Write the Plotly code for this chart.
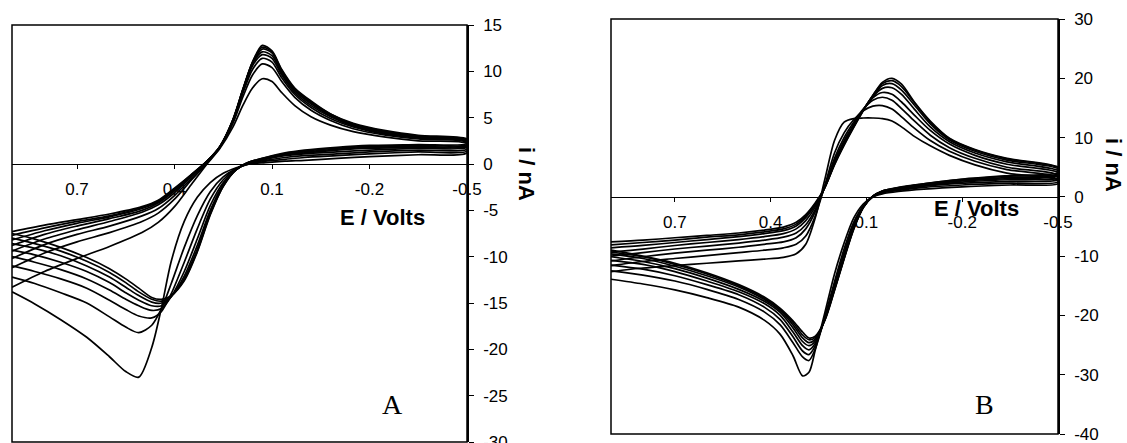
import plotly.graph_objects as go

# ---------------- Panel A data (E in V, i in nA) ----------------
E_FWD_A = [0.9, 0.8, 0.7, 0.6, 0.5, 0.45, 0.4, 0.35, 0.3, 0.26, 0.22, 0.19, 0.16, 0.13, 0.1, 0.07, 0.03, -0.02, -0.08, -0.15, -0.25, -0.35, -0.5]
I_FWD_A = [
    [-13.3, -11.6, -10.2, -8.9, -7.4, -6.3, -4.6, -2.3, 0.0, 1.7, 4.0, 6.3, 8.2, 9.2, 8.9, 7.7, 6.3, 5.1, 4.2, 3.5, 2.9, 2.5, 2.2],
    [-11.2, -9.6, -8.4, -7.4, -6.2, -5.3, -3.8, -1.8, 0.1, 1.8, 4.4, 7.2, 9.6, 10.8, 10.4, 8.9, 7.2, 5.8, 4.7, 3.8, 3.1, 2.7, 2.3],
    [-10.2, -8.7, -7.6, -6.7, -5.6, -4.8, -3.4, -1.6, 0.2, 1.8, 4.6, 7.6, 10.2, 11.4, 11.0, 9.3, 7.5, 6.1, 4.9, 4.0, 3.2, 2.8, 2.4],
    [-9.4, -8.1, -7.1, -6.2, -5.2, -4.4, -3.1, -1.4, 0.2, 1.9, 4.7, 7.8, 10.6, 11.8, 11.4, 9.6, 7.7, 6.3, 5.1, 4.1, 3.3, 2.9, 2.5],
    [-8.8, -7.6, -6.7, -5.9, -5.0, -4.2, -2.9, -1.3, 0.3, 1.9, 4.7, 7.9, 10.8, 12.1, 11.7, 9.8, 7.9, 6.5, 5.2, 4.2, 3.4, 2.9, 2.5],
    [-8.2, -7.2, -6.4, -5.7, -4.8, -4.1, -2.8, -1.3, 0.3, 1.9, 4.8, 8.0, 10.9, 12.4, 12.0, 10.0, 8.0, 6.6, 5.3, 4.3, 3.5, 3.0, 2.6],
    [-7.7, -6.9, -6.2, -5.6, -4.7, -4.0, -2.7, -1.2, 0.3, 1.9, 4.8, 8.0, 11.0, 12.6, 12.1, 10.1, 8.1, 6.7, 5.4, 4.3, 3.5, 3.0, 2.6],
    [-7.3, -6.6, -6.0, -5.4, -4.6, -3.9, -2.6, -1.2, 0.3, 1.9, 4.8, 8.0, 11.0, 12.8, 12.2, 10.2, 8.2, 6.8, 5.4, 4.4, 3.6, 3.1, 2.7],
]
E_RET_A = [-0.5, -0.35, -0.2, -0.1, 0.0, 0.06, 0.12, 0.17, 0.21, 0.25, 0.29, 0.33, 0.37, 0.41, 0.44, 0.47, 0.51, 0.55, 0.6, 0.67, 0.75, 0.83, 0.9]
I_RET_A = [
    [1.2, 1.0, 0.8, 0.6, 0.4, 0.3, 0.15, 0.0, -0.4, -1.0, -2.0, -3.6, -6.2, -10.5, -15.5, -19.8, -23.0, -22.4, -20.8, -18.7, -16.8, -15.1, -13.8],
    [1.4, 1.3, 1.1, 0.9, 0.7, 0.5, 0.3, 0.0, -0.5, -1.4, -3.0, -5.6, -9.0, -12.9, -15.6, -17.4, -18.2, -17.6, -16.5, -15.0, -13.9, -12.9, -12.2],
    [1.6, 1.5, 1.3, 1.1, 0.9, 0.7, 0.4, 0.1, -0.5, -1.7, -3.8, -7.0, -10.6, -14.0, -15.9, -16.6, -16.4, -15.7, -14.7, -13.4, -12.4, -11.6, -11.0],
    [1.8, 1.7, 1.5, 1.3, 1.1, 0.9, 0.5, 0.1, -0.6, -2.0, -4.5, -8.1, -11.6, -14.3, -15.6, -15.8, -15.3, -14.6, -13.6, -12.4, -11.4, -10.6, -10.0],
    [1.9, 1.8, 1.7, 1.5, 1.2, 1.0, 0.6, 0.1, -0.6, -2.2, -5.0, -8.8, -12.1, -14.3, -15.3, -15.3, -14.7, -13.9, -12.8, -11.6, -10.6, -9.8, -9.3],
    [2.0, 1.9, 1.8, 1.6, 1.3, 1.1, 0.6, 0.2, -0.6, -2.3, -5.3, -9.2, -12.4, -14.3, -15.0, -14.9, -14.2, -13.3, -12.2, -11.0, -9.9, -9.1, -8.6],
    [2.1, 2.0, 1.9, 1.7, 1.4, 1.1, 0.7, 0.2, -0.6, -2.4, -5.4, -9.4, -12.5, -14.2, -14.8, -14.6, -13.8, -12.8, -11.7, -10.5, -9.4, -8.6, -8.0],
    [2.2, 2.1, 2.0, 1.8, 1.5, 1.2, 0.7, 0.2, -0.6, -2.4, -5.5, -9.5, -12.6, -14.2, -14.6, -14.4, -13.4, -12.4, -11.3, -10.1, -9.0, -8.1, -7.5],
]

# ---------------- Panel B data ----------------
E_FWD_B = [0.9, 0.8, 0.7, 0.6, 0.5, 0.42, 0.36, 0.32, 0.29, 0.26, 0.23, 0.2, 0.17, 0.14, 0.11, 0.08, 0.05, 0.02, -0.01, -0.05, -0.1, -0.16, -0.24, -0.34, -0.5]
I_FWD_B = [
    [-12.6, -12.0, -11.6, -11.2, -10.8, -10.5, -10.2, -9.6, -8.0, -3.5, 3.0, 9.5, 12.6, 13.2, 13.3, 13.3, 13.2, 12.8, 11.8, 10.2, 8.6, 7.0, 5.4, 4.0, 2.8],
    [-11.6, -10.9, -10.4, -9.9, -9.4, -9.0, -8.6, -8.0, -6.6, -3.2, 2.0, 7.4, 10.8, 13.0, 14.5, 15.3, 15.4, 14.8, 13.5, 11.6, 9.5, 7.7, 6.0, 4.6, 3.3],
    [-10.8, -10.1, -9.5, -9.0, -8.5, -8.0, -7.6, -6.9, -5.4, -2.5, 1.8, 6.5, 10.0, 12.6, 14.8, 16.3, 16.8, 16.3, 14.9, 12.8, 10.4, 8.3, 6.5, 5.0, 3.7],
    [-10.0, -9.4, -8.8, -8.3, -7.8, -7.3, -6.8, -6.1, -4.7, -2.1, 1.7, 6.0, 9.5, 12.2, 14.7, 16.7, 17.6, 17.3, 16.0, 13.8, 11.2, 8.9, 7.0, 5.5, 4.1],
    [-9.3, -8.8, -8.2, -7.7, -7.2, -6.7, -6.2, -5.4, -4.0, -1.7, 1.7, 5.8, 9.2, 12.0, 14.7, 16.9, 18.3, 18.4, 17.3, 14.8, 11.8, 9.3, 7.4, 5.9, 4.4],
    [-8.6, -8.2, -7.7, -7.2, -6.7, -6.2, -5.7, -4.9, -3.5, -1.4, 1.6, 5.6, 9.0, 11.9, 14.6, 17.0, 18.8, 19.1, 18.0, 15.5, 12.3, 9.6, 7.7, 6.2, 4.7],
    [-8.1, -7.7, -7.3, -6.8, -6.4, -5.9, -5.4, -4.6, -3.2, -1.2, 1.6, 5.5, 8.8, 11.8, 14.6, 17.1, 19.1, 19.6, 18.6, 15.9, 12.6, 9.8, 7.9, 6.4, 4.9],
    [-7.6, -7.3, -6.9, -6.5, -6.1, -5.6, -5.1, -4.3, -3.0, -1.0, 1.6, 5.4, 8.7, 11.7, 14.5, 17.1, 19.3, 20.0, 19.0, 16.0, 12.8, 9.9, 8.0, 6.5, 5.0],
]
E_RET_B = [-0.5, -0.35, -0.2, -0.08, 0.0, 0.05, 0.08, 0.11, 0.14, 0.17, 0.2, 0.23, 0.26, 0.28, 0.3, 0.33, 0.37, 0.42, 0.5, 0.6, 0.7, 0.8, 0.9]
I_RET_B = [
    [2.2, 2.0, 1.7, 1.3, 0.9, 0.5, 0.0, -1.2, -3.6, -7.8, -13.0, -19.5, -25.8, -29.6, -30.2, -26.8, -23.2, -20.8, -18.6, -17.0, -15.7, -14.7, -13.9],
    [2.5, 2.3, 2.0, 1.6, 1.1, 0.7, 0.0, -1.5, -4.3, -8.8, -14.3, -20.2, -25.6, -27.6, -27.0, -24.6, -21.6, -19.4, -17.3, -15.6, -14.2, -13.2, -12.5],
    [2.9, 2.6, 2.3, 1.8, 1.2, 0.8, 0.0, -1.6, -4.7, -9.4, -14.9, -20.4, -25.1, -26.6, -26.0, -23.6, -20.7, -18.6, -16.5, -14.8, -13.3, -12.2, -11.5],
    [3.2, 2.9, 2.5, 1.9, 1.3, 0.9, 0.1, -1.7, -5.0, -9.8, -15.2, -20.5, -24.7, -25.8, -25.1, -22.8, -20.0, -18.0, -16.0, -14.2, -12.6, -11.4, -10.7],
    [3.5, 3.1, 2.7, 2.0, 1.4, 0.9, 0.1, -1.7, -5.2, -10.1, -15.4, -20.6, -24.3, -25.1, -24.4, -22.1, -19.5, -17.6, -15.6, -13.7, -12.1, -10.9, -10.1],
    [3.7, 3.3, 2.8, 2.1, 1.5, 1.0, 0.1, -1.8, -5.3, -10.3, -15.6, -20.7, -24.0, -24.6, -23.8, -21.6, -19.2, -17.3, -15.2, -13.3, -11.7, -10.4, -9.6],
    [3.9, 3.5, 2.9, 2.2, 1.5, 1.0, 0.1, -1.8, -5.4, -10.4, -15.7, -20.7, -23.7, -24.1, -23.3, -21.2, -19.0, -17.1, -15.0, -13.0, -11.4, -10.1, -9.3],
    [4.1, 3.6, 3.0, 2.2, 1.6, 1.0, 0.1, -1.8, -5.5, -10.5, -15.8, -20.8, -23.5, -23.8, -22.8, -20.9, -18.8, -16.9, -14.8, -12.8, -11.2, -10.0, -9.0],
]

# ---------------- Axis ticks ----------------
X_TICKS = [0.7, 0.4, 0.1, -0.2, -0.5]
X_TICK_TEXT = ["0.7", "0.4", "0.1", "-0.2", "-0.5"]
Y_TICKS_A = [15, 10, 5, 0, -5, -10, -15, -20, -25, -30]
Y_TICKS_B = [30, 20, 10, 0, -10, -20, -30, -40]
X_RANGE = [0.9, -0.5]
Y_RANGE_A = [-30, 15]
Y_RANGE_B = [-40, 30]

W, H = 1127, 443
DOM_XA = [12 / W, 467 / W]
DOM_YA = [1 - 442 / H, 1 - 25 / H]
DOM_XB = [611 / W, 1058 / W]
DOM_YB = [1 - 434 / H, 1 - 19 / H]


def zero_pos(dom, rng):
    return dom[0] + (0 - rng[0]) / (rng[1] - rng[0]) * (dom[1] - dom[0])


def tick_text(vals):
    return [str(v) for v in vals]


LINE = dict(color="black", width=1.7, shape="spline", smoothing=0.8)
SANS = "Liberation Sans, Arial, sans-serif"
SERIF = "Liberation Serif, Times New Roman, serif"

fig = go.Figure()
for f, r in zip(I_FWD_A, I_RET_A):
    fig.add_trace(go.Scatter(x=E_FWD_A + E_RET_A, y=f + r, mode="lines", line=LINE,
                             xaxis="x", yaxis="y", showlegend=False, hoverinfo="skip"))
for f, r in zip(I_FWD_B, I_RET_B):
    fig.add_trace(go.Scatter(x=E_FWD_B + E_RET_B, y=f + r, mode="lines", line=LINE,
                             xaxis="x2", yaxis="y2", showlegend=False, hoverinfo="skip"))

xcommon = dict(range=X_RANGE, tickvals=X_TICKS, ticktext=X_TICK_TEXT, anchor="free",
               showline=True, linecolor="black", linewidth=1, ticks="outside", ticklen=4,
               tickcolor="black", showgrid=False, zeroline=False, layer="below traces",
               automargin=False, ticklabeloverflow="allow",
               tickfont=dict(family=SANS, size=17, color="black"), ticklabelstandoff=6)
ycommon = dict(side="right", showline=True, linecolor="black", linewidth=1.5, ticks="outside",
               ticklen=5, tickcolor="black", showgrid=False, zeroline=False, automargin=False,
               ticklabeloverflow="allow",
               tickfont=dict(family=SANS, size=17, color="black"), ticklabelstandoff=6)

fig.update_layout(
    width=W, height=H, margin=dict(l=0, r=0, t=0, b=0, autoexpand=False),
    paper_bgcolor="white", plot_bgcolor="white",
    xaxis=dict(domain=DOM_XA, position=zero_pos(DOM_YA, Y_RANGE_A), **xcommon),
    yaxis=dict(domain=DOM_YA, range=Y_RANGE_A, anchor="x", tickvals=Y_TICKS_A,
               ticktext=tick_text(Y_TICKS_A), **ycommon),
    xaxis2=dict(domain=DOM_XB, position=zero_pos(DOM_YB, Y_RANGE_B), **xcommon),
    yaxis2=dict(domain=DOM_YB, range=Y_RANGE_B, anchor="x2", tickvals=Y_TICKS_B,
                ticktext=tick_text(Y_TICKS_B), **ycommon),
    shapes=[
        dict(type="rect", xref="x domain", yref="y domain", x0=0, x1=1, y0=0, y1=1,
             line=dict(color="black", width=1.5), layer="above"),
        dict(type="rect", xref="x2 domain", yref="y2 domain", x0=0, x1=1, y0=0, y1=1,
             line=dict(color="black", width=1.5), layer="above"),
    ],
    annotations=[
        dict(text="<b>E / Volts</b>", x=-0.24, y=-5.8, xref="x", yref="y", showarrow=False,
             xanchor="center", yanchor="middle",
             font=dict(family=SANS, size=22, color="black")),
        dict(text="<b>E / Volts</b>", x=-0.245, y=-2.0, xref="x2", yref="y2", showarrow=False,
             xanchor="center", yanchor="middle",
             font=dict(family=SANS, size=22, color="black")),
        dict(text="<b>i / nA</b>", x=526 / W, y=1 - 174 / H, xref="paper", yref="paper",
             xanchor="center", yanchor="middle",
             showarrow=False, textangle=90, font=dict(family=SANS, size=22, color="black")),
        dict(text="<b>i / nA</b>", x=1114 / W, y=1 - 165 / H, xref="paper", yref="paper",
             xanchor="center", yanchor="middle",
             showarrow=False, textangle=90, font=dict(family=SANS, size=22, color="black")),
        dict(text="A", x=-0.27, y=-25.9, xref="x", yref="y", showarrow=False,
             xanchor="center", yanchor="middle",
             font=dict(family=SERIF, size=28, color="black")),
        dict(text="B", x=-0.27, y=-35, xref="x2", yref="y2", showarrow=False,
             xanchor="center", yanchor="middle",
             font=dict(family=SERIF, size=28, color="black")),
    ],
)

fig.write_html("out.html", config={"displayModeBar": False},
               post_script="document.body.style.margin='0';")
